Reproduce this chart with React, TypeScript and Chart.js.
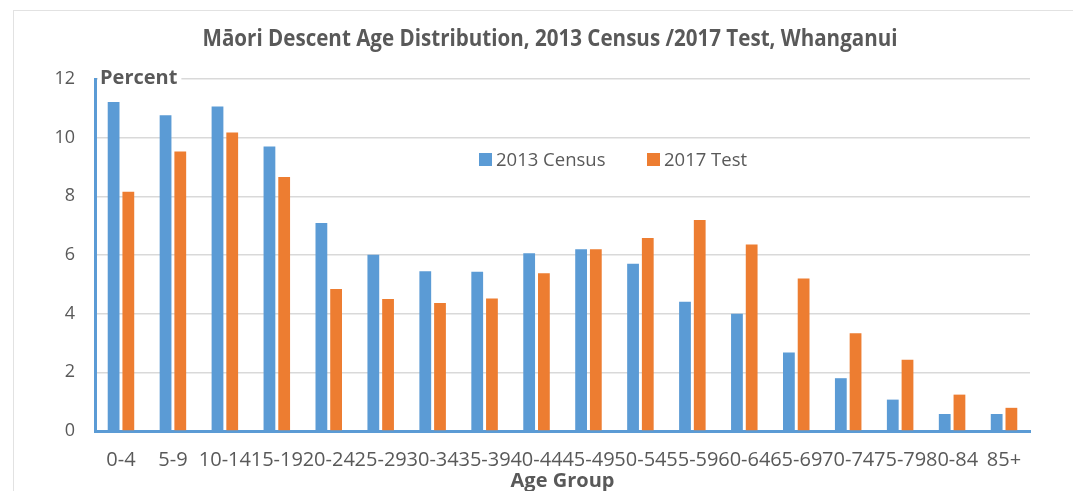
import React, { useEffect, useRef } from "react";
import { Chart, registerables } from "chart.js";

Chart.register(...registerables);

const ageGroups = [
  "0-4", "5-9", "10-14", "15-19", "20-24", "25-29", "30-34", "35-39", "40-44",
  "45-49", "50-54", "55-59", "60-64", "65-69", "70-74", "75-79", "80-84", "85+",
];
const census2013 = [11.22, 10.76, 11.06, 9.7, 7.09, 6.01, 5.45, 5.43, 6.06, 6.2, 5.7, 4.41, 4.0, 2.68, 1.8, 1.07, 0.58, 0.58];
const test2017 = [8.16, 9.53, 10.18, 8.66, 4.84, 4.5, 4.36, 4.52, 5.38, 6.2, 6.58, 7.19, 6.36, 5.2, 3.33, 2.43, 1.24, 0.79];
const seriesNames = ["2013 Census", "2017 Test"];
const titleText = "Māori Descent Age Distribution, 2013 Census /2017 Test, Whanganui";
const yAxisLabel = "Percent";
const xAxisLabel = "Age Group";

const BLUE = "#5B9BD5";
const ORANGE = "#ED7D31";
const TEXT = "#595959";
const GRID = "#D9D9D9";
const FONT = "'Open Sans', 'Noto Sans', sans-serif";

const overlayPlugin = {
  id: "overlay",
  afterDraw(chart: any) {
    const ctx = chart.ctx as CanvasRenderingContext2D;
    const area = chart.chartArea;
    ctx.save();
    // Title (condensed horizontally to match the narrow original face)
    ctx.font = `bold 23.5px ${FONT}`;
    const w = ctx.measureText(titleText).width;
    ctx.fillStyle = TEXT;
    ctx.textAlign = "center";
    ctx.textBaseline = "alphabetic";
    ctx.save();
    ctx.translate(550, 46);
    ctx.scale(Math.min(1, 695 / w), 1);
    ctx.fillText(titleText, 0, 0);
    ctx.restore();

    // "Percent" label with white backing over top gridline
    ctx.font = `bold 20px ${FONT}`;
    const pw = ctx.measureText(yAxisLabel).width;
    ctx.fillStyle = "#ffffff";
    ctx.fillRect(area.left + 3, area.top - 9, pw + 6, 16);
    ctx.fillStyle = TEXT;
    ctx.textAlign = "left";
    ctx.fillText(yAxisLabel, area.left + 5, area.top + 5);

    // Legend inside plot
    const colors = chart.data.datasets.map((d: any) => d.backgroundColor);
    const labels = chart.data.datasets.map((d: any) => d.label);
    ctx.font = `18.5px ${FONT}`;
    ctx.textBaseline = "middle";
    const xs = [479, 647];
    const yMid = 159.5;
    labels.forEach((lab: string, i: number) => {
      ctx.fillStyle = colors[i];
      ctx.fillRect(xs[i], yMid - 6.5, 13, 13);
      ctx.fillStyle = TEXT;
      ctx.fillText(lab, xs[i] + 17, yMid + 1);
    });
    ctx.restore();
  },
};

export default function App() {
  const ref = useRef<HTMLCanvasElement>(null);
  useEffect(() => {
    if (!ref.current) return;
    const chart = new Chart(ref.current, {
      type: "bar",
      data: {
        labels: ageGroups,
        datasets: [
          { label: seriesNames[0], data: census2013, backgroundColor: BLUE, categoryPercentage: 0.567, barPercentage: 0.8 },
          { label: seriesNames[1], data: test2017, backgroundColor: ORANGE, categoryPercentage: 0.567, barPercentage: 0.8 },
        ],
      },
      options: {
        animation: false,
        responsive: false,
        devicePixelRatio: 1,
        layout: { padding: { left: 0, right: 43, top: 79, bottom: 0 } },
        plugins: {
          legend: { display: false },
          title: { display: false },
          tooltip: { enabled: false },
        },
        scales: {
          x: {
            grid: { display: false, drawTicks: false },
            border: { display: true, color: BLUE, width: 3 },
            ticks: {
              autoSkip: false,
              maxRotation: 0,
              minRotation: 0,
              padding: 17,
              color: TEXT,
              font: { family: FONT, size: 20 },
            },
            title: {
              display: true,
              text: xAxisLabel,
              color: TEXT,
              font: { family: FONT, size: 20, weight: "bold" },
              padding: { top: 0, bottom: -2 },
            },
            afterFit(scale: any) {
              scale.height = 60;
            },
          },
          y: {
            min: 0,
            max: 12,
            ticks: {
              stepSize: 2,
              padding: 20,
              color: TEXT,
              font: { family: FONT, size: 18 },
            },
            grid: { color: GRID, lineWidth: 1.5, drawTicks: false },
            border: { display: true, color: BLUE, width: 3 },
            afterFit(scale: any) {
              scale.width = 95;
            },
          },
        },
      },
      plugins: [overlayPlugin],
    } as any);
    return () => chart.destroy();
  }, []);

  return (
    <div style={{ position: "fixed", left: 0, top: 0, width: 1073, height: 491, overflow: "hidden", background: "#fff" }}>
      <div
        style={{
          position: "absolute",
          left: 13,
          top: 10,
          width: 1200,
          height: 600,
          border: "1.5px solid #E2E2E2",
          boxSizing: "border-box",
        }}
      />
      <canvas ref={ref} width={1073} height={491} style={{ position: "absolute", left: 0, top: 0, width: 1073, height: 491 }} />
    </div>
  );
}
